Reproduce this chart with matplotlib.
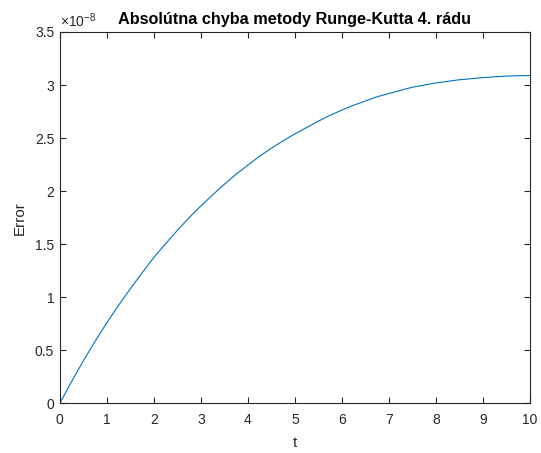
import matplotlib
matplotlib.use("Agg")
import matplotlib.pyplot as plt
import numpy as np

plt.rcParams['font.family'] = ['Liberation Sans', 'DejaVu Sans']
plt.rcParams['mathtext.fontset'] = 'custom'
plt.rcParams['mathtext.rm'] = 'Liberation Sans'
plt.rcParams['mathtext.it'] = 'Liberation Sans:italic'

# absolute error of RK4 over time (units of 1e-8)
t = [0, 0.25, 0.5, 0.75, 1, 1.25, 1.5, 1.75, 2, 2.25, 2.5, 2.75,
     3, 3.25, 3.5, 3.75, 4, 4.25, 4.5, 4.75, 5, 5.25, 5.5, 5.75,
     6, 6.25, 6.5, 6.75, 7, 7.25, 7.5, 7.75, 8, 8.25, 8.5, 8.75,
     9, 9.25, 9.5, 9.75, 10]
err_e8 = [0, 0.205, 0.40, 0.585, 0.76, 0.925, 1.08, 1.23, 1.375, 1.505, 1.63, 1.75,
          1.86, 1.965, 2.065, 2.16, 2.245, 2.33, 2.405, 2.475, 2.54, 2.60, 2.66, 2.715,
          2.765, 2.81, 2.85, 2.89, 2.92, 2.95, 2.98, 3.00, 3.02, 3.035, 3.05, 3.06,
          3.07, 3.078, 3.084, 3.088, 3.09]
err = np.array(err_e8) * 1e-8

xticks = list(range(0, 11))
yticks_e8 = [0, 0.5, 1, 1.5, 2, 2.5, 3, 3.5]

fig = plt.figure(figsize=(5.41, 4.53), dpi=100)
ax = fig.add_axes([0.1104, 0.1093, 0.8693, 0.8201])

ax.plot(t, err, color=(0, 0.447, 0.741), lw=0.8)

ax.set_xlim(0, 10)
ax.set_ylim(0, 3.5e-8)
ax.set_xticks(xticks)
ax.set_xticklabels([str(x) for x in xticks])
ax.set_yticks([v * 1e-8 for v in yticks_e8])
ax.set_yticklabels(['%g' % v for v in yticks_e8])

dark = (0.15, 0.15, 0.15)
for s in ax.spines.values():
    s.set_color(dark)
    s.set_linewidth(0.8)
ax.tick_params(direction='in', length=4, width=0.8, colors=dark,
               labelsize=10, top=True, right=True)
ax.tick_params(axis='x', pad=7)
ax.tick_params(axis='y', pad=4)

ax.text(0.0, 1.005, r'$\times10^{-8}$', transform=ax.transAxes,
        fontsize=10, color=dark, ha='left', va='bottom')

ax.set_title('Absolútna chyba metody Runge-Kutta 4. rádu',
             fontsize=11.7, fontweight='bold', color='black', pad=6)
ax.set_xlabel('t', fontsize=11, color=dark, labelpad=6)
ax.set_ylabel('Error', fontsize=11, color=dark, labelpad=6)

fig.savefig('out.png', dpi=100)
